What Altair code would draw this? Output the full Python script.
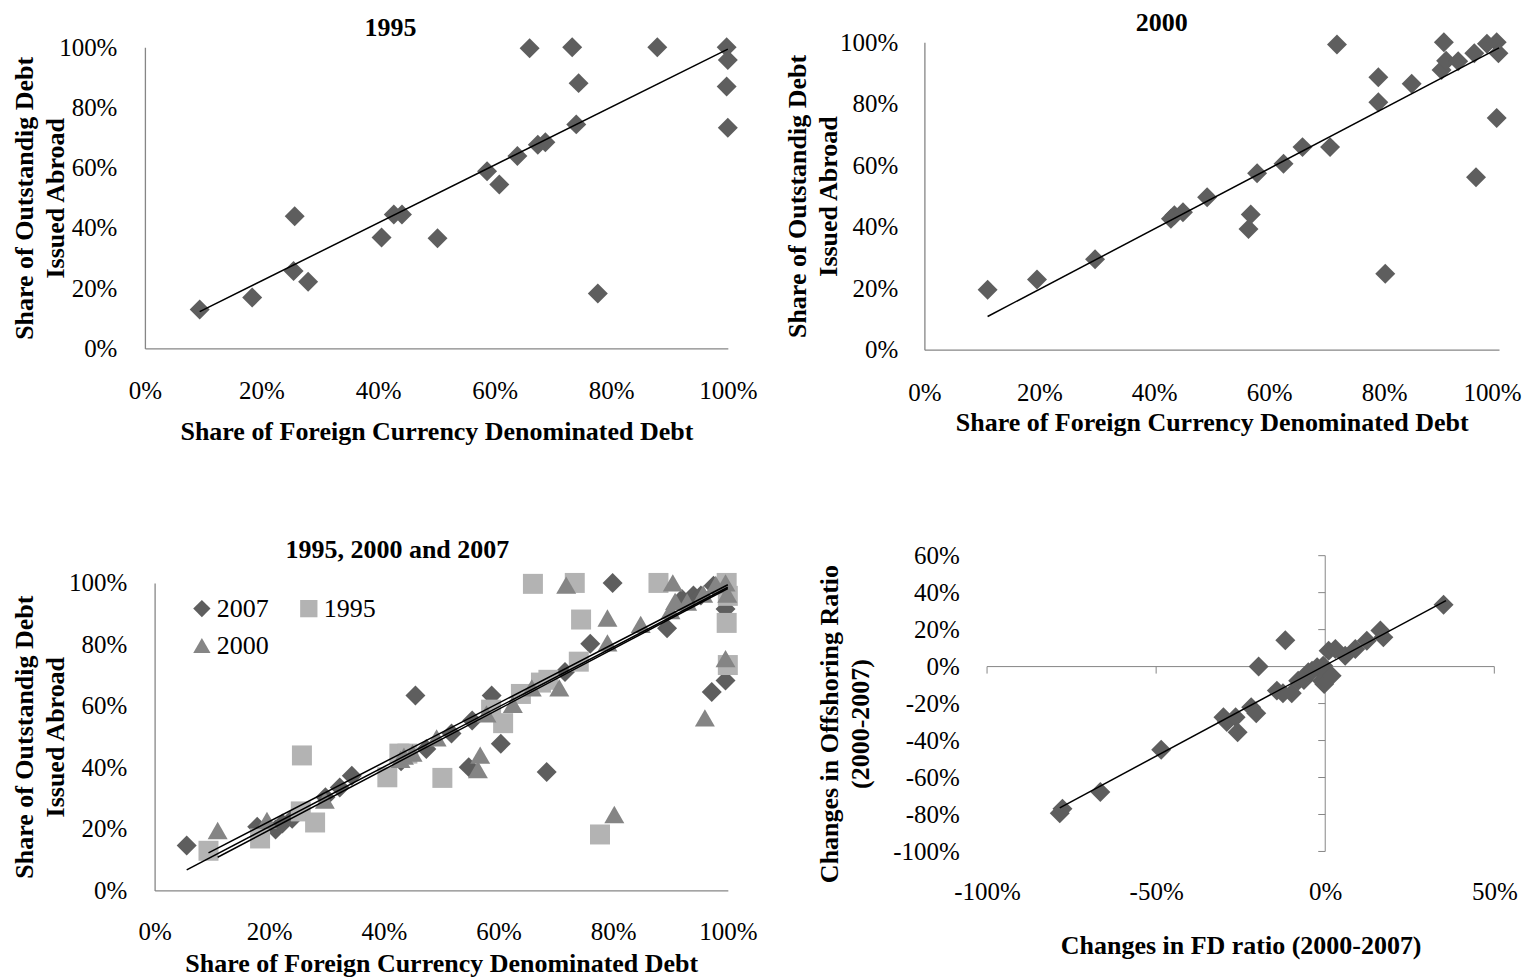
import altair as alt
import pandas as pd

# ---------------- data (percent values) ----------------
x1995 = [9.4, 18.4, 25.7, 25.5, 28.0, 40.6, 42.7, 44.1, 50.2, 58.7, 60.8, 63.9, 66.0,
         67.4, 68.7, 73.3, 74.4, 74.0, 77.7, 87.9, 99.8, 100.0, 99.8, 100.0]
y1995 = [12.9, 16.9, 43.9, 25.7, 22.1, 36.8, 44.5, 44.5, 36.6, 58.8, 54.4, 63.9, 99.7,
         67.6, 68.5, 100.0, 88.1, 74.4, 18.2, 100.0, 100.0, 95.8, 87.0, 73.3]

x2000 = [11.0, 19.6, 29.7, 42.9, 43.5, 45.0, 49.2, 56.4, 56.8, 57.9, 62.5, 65.8, 70.6,
         71.8, 79.0, 79.0, 80.2, 84.8, 90.4, 90.0, 90.8, 92.9, 95.7, 96.0, 97.9, 99.6,
         99.9, 99.6]
y2000 = [19.5, 22.8, 29.4, 42.6, 43.7, 44.7, 49.6, 39.3, 44.0, 57.4, 60.5, 65.9, 65.9,
         99.3, 88.6, 80.5, 24.7, 86.5, 100.0, 91.0, 94.0, 93.8, 96.4, 56.1, 99.5, 100.0,
         96.4, 75.4]

x2007 = [5.6, 17.9, 21.1, 22.3, 24.0, 29.8, 32.3, 34.4, 43.0, 44.3, 45.5, 47.4, 51.8,
         54.8, 55.4, 58.8, 60.4, 68.4, 71.6, 76.0, 79.9, 89.4, 92.0, 94.0, 95.3, 97.5,
         97.2, 99.6, 99.6]
y2007 = [14.6, 20.7, 19.8, 21.8, 23.3, 30.3, 33.5, 37.3, 42.0, 44.4, 63.4, 46.0, 51.0,
         40.1, 55.3, 63.4, 47.7, 38.5, 71.0, 80.2, 100.0, 85.3, 94.8, 95.9, 95.9, 99.1,
         64.5, 68.3, 91.5]

x_chg = [-78.5, -77.7, -66.5, -48.5, -30.1, -29.1, -26.5, -25.9, -21.9, -20.4, -19.7,
         -14.3, -12.5, -11.8, -9.9, -8.0, -6.3, -5.0, -3.9, -2.4, -1.0, -0.6, -0.3, 1.0,
         1.9, 3.0, 5.9, 8.9, 12.3, 16.3, 17.2, 35.0]
y_chg = [-79.3, -76.9, -67.9, -45.0, -27.4, -30.0, -27.4, -35.5, -22.0, -25.2, 0.0,
         -13.0, -14.4, 14.2, -14.4, -7.6, -7.2, -3.0, -2.2, -0.4, -7.6, 0.5, -9.4, 8.6,
         -4.9, 9.5, 5.9, 9.5, 14.0, 19.5, 15.8, 33.5]

# linear trend lines (end points)
trend1995_x = [9.4, 100.0]
trend1995_y = [12.2, 99.4]
trend2000_x = [11.0, 100.0]
trend2000_y = [10.8, 98.2]
trend2007_x = [5.6, 100.0]
trend2007_y = [6.7, 98.6]
trendchg_x = [-78.5, 35.7]
trendchg_y = [-76.4, 35.7]

share_ticks = [0, 20, 40, 60, 80, 100]
chg_x_ticks = [-100, -50, 0, 50]
chg_y_ticks = [-100, -80, -60, -40, -20, 0, 20, 40, 60]

series_order = ["2007", "1995", "2000"]

# ---------------- helpers ----------------
FONT = "Liberation Serif"
DARK = "#5e5e5e"
MIDG = "#858585"
LIGHT = "#b3b3b3"
AXC = "#868686"
LBL = "replace(datum.label, '\u2212', '-')"


def frac(v):
    return [a / 100 for a in v]


def df(xs, ys, name=None):
    d = pd.DataFrame({"x": frac(xs), "y": frac(ys)})
    if name is not None:
        d["series"] = name
    return d


def xaxis(title, lp, tp, values, domain=True, last_shift=0):
    kw = dict(title=title, values=frac(values), format=".0%", labelExpr=LBL,
              labelPadding=lp, titlePadding=tp, domain=domain, ticks=False,
              grid=False, labelFlush=False, labelOverlap=False)
    if last_shift:
        # keep the right-most label inside the 1530 px page
        kw["labelOffset"] = {"condition": {"test": "datum.value >= 0.999", "value": last_shift},
                             "value": 0}
    return alt.Axis(**kw)


def yaxis(title, lp, tx, values, domain=True, offset=0, ty=None):
    kw = dict(title=title, values=frac(values), format=".0%", labelExpr=LBL,
              labelPadding=lp, titleX=tx, titleBaseline="bottom", titleLineHeight=31,
              domain=domain, ticks=False, grid=False, offset=offset, labelFlush=False,
              labelOverlap=False)
    if ty is not None:
        kw["titleY"] = ty
    return alt.Axis(**kw)


def legend():
    return alt.Legend(title=None, orient="none", legendX=44, legendY=40, direction="horizontal",
                      columns=2, columnPadding=27, rowPadding=11, symbolSize=300,
                      labelFont=FONT, labelFontSize=26, labelColor="black", labelOffset=2,
                      padding=0, symbolStrokeWidth=0, symbolOpacity=1)


XT = "Share of Foreign Currency Denominated Debt"
YT = ["Share of Outstandig Debt", "Issued Abroad"]

# ---------------- panel 1 : 1995 ----------------
sx1 = alt.Scale(domain=[0, 1], nice=False, zero=False)
sy1 = alt.Scale(domain=[0, 1], nice=False, zero=False, range=[306.3, 5])
ax1 = xaxis(XT, 30.5, 15, share_ticks)
ay1 = yaxis(YT, 28, -107, share_ticks)
pts1 = alt.Chart(df(x1995, y1995)).mark_point(
    shape="diamond", filled=True, size=400, color=DARK, opacity=1, strokeWidth=0
).encode(x=alt.X("x:Q", scale=sx1, axis=ax1), y=alt.Y("y:Q", scale=sy1, axis=ay1))
tr1 = alt.Chart(df(trend1995_x, trend1995_y)).mark_line(color="black", strokeWidth=1.5).encode(
    x=alt.X("x:Q", scale=sx1, axis=ax1), y=alt.Y("y:Q", scale=sy1, axis=ay1))
panel1 = alt.layer(pts1, tr1).properties(
    width=583.3, height=306.3,
    title=alt.TitleParams("1995", frame="group", anchor="middle", dx=-46, dy=6, offset=0))

# ---------------- panel 2 : 2000 ----------------
sx2 = alt.Scale(domain=[0, 1], nice=False, zero=False)
sy2 = alt.Scale(domain=[0, 1], nice=False, zero=False)
ax2 = xaxis(XT, 31, 4, share_ticks, last_shift=-7)
ay2 = yaxis(YT, 26.6, -114, share_ticks)
pts2 = alt.Chart(df(x2000, y2000)).mark_point(
    shape="diamond", filled=True, size=400, color=DARK, opacity=1, strokeWidth=0
).encode(x=alt.X("x:Q", scale=sx2, axis=ax2), y=alt.Y("y:Q", scale=sy2, axis=ay2))
tr2 = alt.Chart(df(trend2000_x, trend2000_y)).mark_line(color="black", strokeWidth=1.5).encode(
    x=alt.X("x:Q", scale=sx2, axis=ax2), y=alt.Y("y:Q", scale=sy2, axis=ay2))
panel2 = alt.layer(pts2, tr2).properties(
    width=575, height=307.6,
    title=alt.TitleParams("2000", frame="group", anchor="middle", dx=-50, dy=6, offset=0))

# ---------------- panel 3 : 1995, 2000 and 2007 ----------------
sx3 = alt.Scale(domain=[0, 1], nice=False, zero=False, range=[9.7, 583.3])
sy3 = alt.Scale(domain=[0, 1], nice=False, zero=False, range=[335, 27.3])
ax3 = xaxis(XT, 29.5, 6, share_ticks)
ay3 = yaxis(YT, 27.8, -116.7, share_ticks, offset=-9.7)
all3 = pd.concat([df(x2007, y2007, "2007"), df(x1995, y1995, "1995"), df(x2000, y2000, "2000")],
                 ignore_index=True)
trends3 = pd.concat([df(trend2007_x, trend2007_y, "2007"), df(trend1995_x, trend1995_y, "1995"),
                     df(trend2000_x, trend2000_y, "2000")], ignore_index=True)
pts3 = alt.Chart(all3).mark_point(filled=True, size=400, opacity=1, strokeWidth=0).encode(
    x=alt.X("x:Q", scale=sx3, axis=ax3),
    y=alt.Y("y:Q", scale=sy3, axis=ay3),
    color=alt.Color("series:N", scale=alt.Scale(domain=series_order, range=[DARK, LIGHT, MIDG]),
                    legend=legend()),
    shape=alt.Shape("series:N", scale=alt.Scale(domain=series_order,
                                                range=["diamond", "square", "triangle-up"]),
                    legend=legend()),
)
tr3 = alt.Chart(trends3).mark_line(color="black", strokeWidth=1.5).encode(
    x=alt.X("x:Q", scale=sx3, axis=ax3), y=alt.Y("y:Q", scale=sy3, axis=ay3),
    detail="series:N")
panel3 = alt.layer(pts3, tr3).properties(
    width=583.3, height=335,
    title=alt.TitleParams("1995, 2000 and 2007", frame="group", anchor="middle", dx=-39, dy=7,
                          offset=0))

# ---------------- panel 4 : changes ----------------
sx4 = alt.Scale(domain=[-1, 0.5], nice=False, zero=False, range=[62.7, 570.3])
sy4 = alt.Scale(domain=[-1, 0.6], nice=False, zero=False)
ax4 = xaxis("Changes in FD ratio (2000-2007)", 28, 28, chg_x_ticks, domain=False)
ay4 = yaxis(["Changes in Offshoring Ratio", "(2000-2007)"], 27.7, -144.2, chg_y_ticks,
            domain=False, offset=-62.7, ty=168)


def X4(f):
    return alt.X(f, scale=sx4, axis=ax4)


def Y4(f):
    return alt.Y(f, scale=sy4, axis=ay4)


vline = alt.Chart(pd.DataFrame({"x": [0.0], "y": [chg_y_ticks[0] / 100],
                                "y2": [chg_y_ticks[-1] / 100]})).mark_rule(
    color=AXC, strokeWidth=1).encode(x=X4("x:Q"), y=Y4("y:Q"), y2="y2:Q")
hline = alt.Chart(pd.DataFrame({"x": [chg_x_ticks[0] / 100], "x2": [chg_x_ticks[-1] / 100],
                                "y": [0.0]})).mark_rule(
    color=AXC, strokeWidth=1).encode(x=X4("x:Q"), x2="x2:Q", y=Y4("y:Q"))
yticks = alt.Chart(pd.DataFrame({"x": 0.0, "y": frac(chg_y_ticks)})).mark_rule(
    color=AXC, strokeWidth=1, x2Offset=-7).encode(x=X4("x:Q"), x2="x:Q", y=Y4("y:Q"))
xticks = alt.Chart(pd.DataFrame({"x": frac(chg_x_ticks), "y": 0.0})).mark_rule(
    color=AXC, strokeWidth=1, y2Offset=7).encode(x=X4("x:Q"), y=Y4("y:Q"), y2="y:Q")
pts4 = alt.Chart(df(x_chg, y_chg)).mark_point(
    shape="diamond", filled=True, size=400, color=DARK, opacity=1, strokeWidth=0
).encode(x=X4("x:Q"), y=Y4("y:Q"))
tr4 = alt.Chart(df(trendchg_x, trendchg_y)).mark_line(color="black", strokeWidth=1.5).encode(
    x=X4("x:Q"), y=Y4("y:Q"))
panel4 = alt.layer(vline, hline, yticks, xticks, pts4, tr4).properties(width=570.3, height=296)

# ---------------- assemble ----------------
chart = alt.concat(
    panel1, panel2, panel3, panel4, columns=2, bounds="flush",
    spacing={"row": 205.7, "column": 196},
).resolve_scale(
    x="independent", y="independent", color="independent", shape="independent"
).properties(
    padding={"left": 3, "top": 2, "right": 0, "bottom": 0}, background="white"
).configure_view(stroke=None).configure_axis(
    labelFont=FONT, labelFontSize=25, labelColor="black", titleFont=FONT,
    titleFontSize=26, titleFontWeight="bold", titleColor="black", domainColor=AXC,
    domainWidth=1.3
).configure_title(font=FONT, fontSize=26, fontWeight="bold", color="black")

chart.save("out.html", embed_options={"renderer": "svg", "actions": False})
